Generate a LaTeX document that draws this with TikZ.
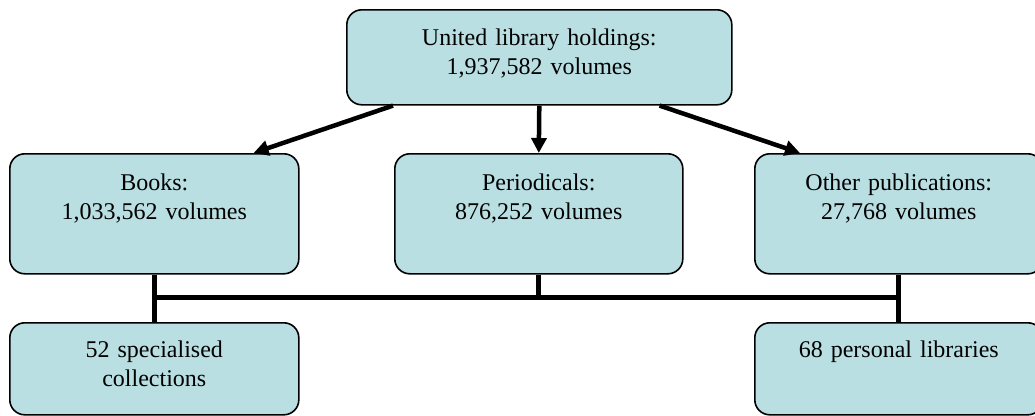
\documentclass[tikz,border=0pt]{standalone}
\usepackage{fontspec}
\setmainfont{Liberation Serif}
\usetikzlibrary{arrows.meta}
\definecolor{boxfill}{RGB}{185,223,226}
\begin{document}
\begin{tikzpicture}[x=1pt,y=-1pt,
  orgbox/.style={draw=black, line width=1.6pt, fill=boxfill, rounded corners=15pt,
    inner sep=0pt, align=center, font=\fontsize{24}{28.8}\selectfont,
    text height=37pt, anchor=north west},
  arr/.style={line width=4.5pt, -{Triangle[length=15pt,width=15pt]}},
  link/.style={line width=5pt}]
\useasboundingbox (0,0) rectangle (1035,415);
\clip (0,0) rectangle (1035,415);
\node[orgbox, text width=385pt, text height=36pt, text depth=59pt] (top) at (346,9) {United library holdings:\\1,937,582 volumes};
\node[orgbox, text width=289pt, text depth=83pt] (books) at (9,153) {Books:\\1,033,562 volumes};
\node[orgbox, text width=288pt, text depth=83pt] (period) at (394,153) {Periodicals:\\876,252 volumes};
\node[orgbox, text width=288pt, text depth=83pt] (other) at (754,153) {Other publications:\\27,768 volumes};
\node[orgbox, text width=289pt, text height=35pt, text depth=57pt] (spec) at (9,322) {52 specialised\\collections};
\node[orgbox, text width=288pt, text height=35pt, text depth=57pt] (pers) at (754,322) {68 personal libraries};
\draw[arr] ([xshift=47pt]top.south west) -- ([xshift=-46pt]books.north east);
\draw[arr] (top.south) -- (period.north);
\draw[arr] ([xshift=-73pt]top.south east) -- ([xshift=46pt]other.north west);
\coordinate (jl) at (books.south |- 0,297);
\coordinate (jr) at (other.south |- 0,297);
\draw[link] (books.south) -- (spec.north);
\draw[link] (other.south) -- (pers.north);
\draw[link] (jl) -- (jr);
\draw[link] (period.south) -- (period.south |- jl);
\end{tikzpicture}
\end{document}
